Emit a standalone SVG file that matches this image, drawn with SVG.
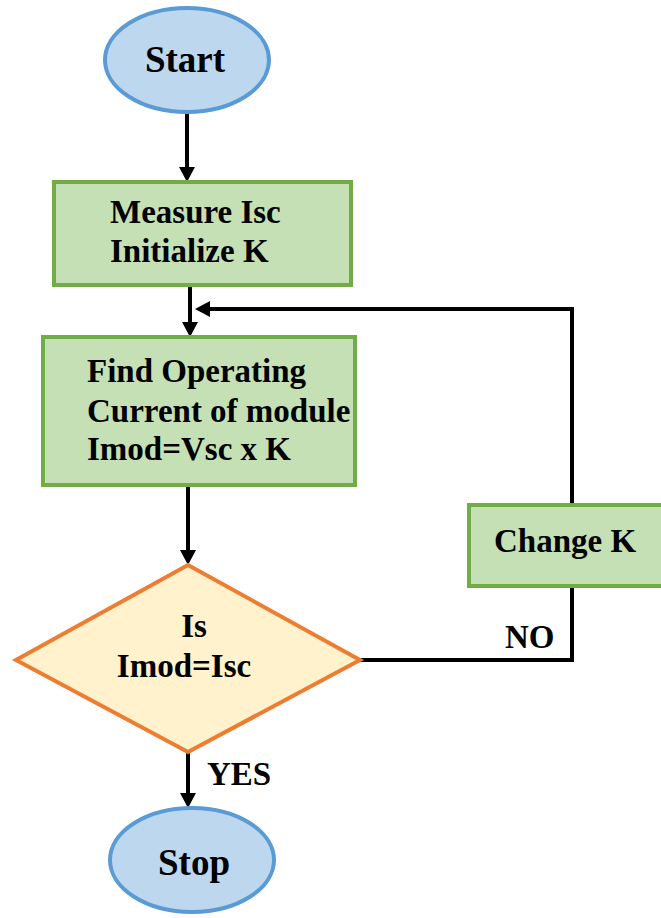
<svg xmlns="http://www.w3.org/2000/svg" width="661" height="918" viewBox="0 0 661 918">
  <style>
    .term { fill: #BDD7EE; stroke: #5B9BD5; stroke-width: 4; }
    .proc { fill: #C5E0B4; stroke: #70AD47; stroke-width: 4; }
    .dec { fill: #FFF2CC; stroke: #ED7D31; stroke-width: 4; stroke-linejoin: miter; }
    .lbl { font-family: "Liberation Serif", "Times New Roman", serif; font-weight: bold; font-size: 33px; fill: #000; }
    .big { font-size: 37px; }
    .wire { fill: none; stroke: #000; stroke-width: 4; }
  </style>
  <defs>
    <marker id="arrow" markerUnits="userSpaceOnUse" markerWidth="16" markerHeight="16" refX="0" refY="8" orient="auto">
      <path d="M0,0 L15,8 L0,16 z" fill="#000"/>
    </marker>
  </defs>

  <rect width="661" height="918" fill="#fff"/>

  <g id="connectors">
    <line class="wire" x1="187" y1="112" x2="187" y2="167" marker-end="url(#arrow)"/>
    <line class="wire" x1="190" y1="285" x2="190" y2="322" marker-end="url(#arrow)"/>
    <line class="wire" x1="188" y1="485" x2="188" y2="550" marker-end="url(#arrow)"/>
    <line class="wire" x1="188" y1="752" x2="188" y2="793" marker-end="url(#arrow)"/>
    <path class="wire" d="M360,660 H572 V586"/>
    <path class="wire" d="M572,505 V309 H210" marker-end="url(#arrow)"/>
    <text class="lbl" x="505" y="648">NO</text>
    <text class="lbl" x="207" y="785">YES</text>
  </g>

  <g id="start">
    <ellipse class="term" cx="187" cy="60" rx="82" ry="52"/>
    <text class="lbl big" x="185" y="72" text-anchor="middle">Start</text>
  </g>

  <g id="measure">
    <rect class="proc" x="54" y="182" width="297" height="103"/>
    <text class="lbl" x="110" y="223">Measure Isc</text>
    <text class="lbl" x="110" y="262">Initialize K</text>
  </g>

  <g id="find-current">
    <rect class="proc" x="43" y="337" width="312" height="148"/>
    <text class="lbl" x="87" y="382">Find Operating</text>
    <text class="lbl" x="87" y="422">Current of module</text>
    <text class="lbl" x="87" y="460">Imod=Vsc x K</text>
  </g>

  <g id="check">
    <polygon class="dec" points="188,565 360,660 188,752 16,660"/>
    <text class="lbl" x="194" y="637" text-anchor="middle">Is</text>
    <text class="lbl" x="184" y="677" text-anchor="middle">Imod=Isc</text>
  </g>

  <g id="change-k">
    <rect class="proc" x="469" y="505" width="200" height="81"/>
    <text class="lbl" x="494" y="552">Change K</text>
  </g>

  <g id="stop">
    <ellipse class="term" cx="192" cy="860" rx="82" ry="52"/>
    <text class="lbl big" x="194" y="875" text-anchor="middle">Stop</text>
  </g>
</svg>
